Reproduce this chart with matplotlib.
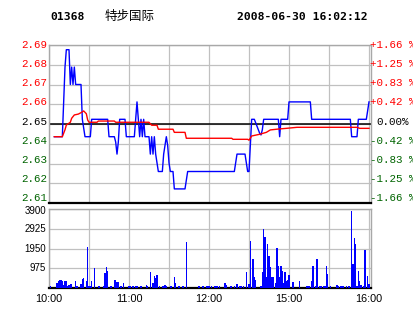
import numpy as np
import matplotlib
matplotlib.use('Agg')
import matplotlib.pyplot as plt
import matplotlib.transforms as mtransforms

# Заголовок
CODE = '01368'
NAME = '特步国际'
STAMP = '2008-06-30 16:02:12'

# Шкала времени: минуты торгов (10:00-12:30, 14:30-16:00)
time_ticks = [0, 60, 120, 180, 240]
time_labels = ['10:00', '11:00', '12:00', '15:00', '16:00']

# Подписи шкалы цены (снизу вверх)
price_labels = ['2.61', '2.62', '2.63', '2.64', '2.65', '2.66', '2.67', '2.68', '2.69']
pct_labels = ['-1.66 %', '-1.25 %', '-0.83 %', '-0.42 %', '0.00%',
              '+0.42 %', '+0.83 %', '+1.25 %', '+1.66 %']

vol_ticks = [975, 1950, 2925, 3900]
vol_labels = ['975', '1950', '2925', '3900']

# Цена (минута, цена)
price_min = [4, 10, 11, 12, 13, 15, 16, 17, 18, 19, 20, 24, 25, 27, 31, 32, 44, 45,
             49, 50, 51, 52, 53, 57, 58, 64, 65, 66, 67, 68, 69, 70, 71, 72, 75,
             76, 77, 78, 79, 80, 81, 82, 85, 86, 87, 88, 89, 90, 91, 93, 94, 102,
             103, 104, 139, 140, 141, 147, 148, 149, 150, 151, 152, 154, 155, 156,
             157, 158, 159, 160, 161, 172, 173, 174, 179, 180, 196, 197, 226, 227,
             231, 232, 238, 240]
price_val = [2.64, 2.64, 2.66, 2.68, 2.69, 2.69, 2.67, 2.68, 2.67, 2.68, 2.67, 2.67, 2.65, 2.64, 2.64, 2.65, 2.65, 2.64,
             2.64, 2.637, 2.63, 2.637, 2.65, 2.65, 2.64, 2.64, 2.65, 2.66, 2.65, 2.64, 2.65, 2.64, 2.65, 2.64, 2.64,
             2.63, 2.64, 2.63, 2.64, 2.63, 2.625, 2.62, 2.62, 2.63, 2.635, 2.64, 2.635, 2.625, 2.62, 2.62, 2.61, 2.61,
             2.615, 2.62, 2.62, 2.625, 2.63, 2.63, 2.625, 2.62, 2.62, 2.635, 2.65, 2.65, 2.648, 2.646,
             2.644, 2.642, 2.641, 2.644, 2.65, 2.65, 2.64, 2.65, 2.65, 2.66, 2.66, 2.65, 2.65, 2.64,
             2.64, 2.65, 2.65, 2.66]

# Средняя цена
avg_min = [4, 10, 12, 13, 16, 17, 19, 22, 24, 26, 28, 29, 30, 36, 37, 49, 50, 75, 77, 81,
           82, 93, 94, 102, 103, 137, 138, 149, 150, 152, 158, 163, 166, 172, 178, 186, 231, 233, 240]
avg_val = [2.640, 2.640, 2.644, 2.6467, 2.6483, 2.6506, 2.6525, 2.653, 2.6538, 2.6548,
           2.6532, 2.6496, 2.6483, 2.6483, 2.649, 2.649, 2.6483, 2.6483, 2.6466, 2.6466,
           2.6443, 2.6443, 2.6425, 2.6425, 2.6391, 2.6391, 2.6385, 2.6385, 2.638, 2.6404,
           2.6414, 2.6425, 2.6439, 2.6444, 2.6448, 2.6454, 2.6454, 2.6448, 2.6448]

# Объём по минутам
vol_min = [1, 6, 7, 8, 9, 10, 11, 12, 13, 14, 15, 16, 17, 20, 21, 24, 25, 26, 28, 29,
           30, 31, 32, 34, 37, 38, 41, 42, 43, 44, 46, 47, 49, 50, 51, 52, 54, 56, 60, 61,
           63, 65, 66, 69, 73, 74, 76, 78, 79, 80, 81, 83, 85, 86, 87, 88, 91, 92, 94, 95,
           97, 98, 100, 101, 103, 112, 113, 115, 116, 118, 119, 120, 122, 124, 125, 126, 128, 132, 133, 136,
           137, 139, 141, 143, 144, 146, 148, 150, 151, 153, 154, 155, 159, 160, 161, 162, 163, 164, 165, 166,
           167, 168, 170, 171, 172, 173, 174, 175, 176, 177, 178, 179, 180, 183, 188, 193, 194, 195, 197, 198,
           200, 201, 203, 204, 206, 207, 208, 209, 211, 216, 217, 219, 220, 221, 223, 225, 227, 228, 229, 230,
           231, 232, 233, 234, 236, 237, 239, 240]
vol_val = [115, 247, 330, 380, 410, 330, 165, 330, 330, 115, 165, 214, 214, 330, 115, 214, 460, 510, 330, 2025,
           115, 115, 362, 988, 115, 115, 115, 740, 1037, 823, 115, 115, 410, 380, 313, 280, 115, 247, 115, 115,
           115, 115, 115, 115, 165, 115, 806, 247, 576, 494, 658, 115, 115, 115, 165, 115, 115, 115, 543, 247,
           115, 115, 115, 115, 2288, 115, 115, 115, 115, 115, 115, 115, 115, 115, 115, 115, 115, 247, 165, 115,
           115, 115, 214, 115, 115, 115, 773, 197, 2304, 1448, 543, 410, 115, 773, 2930, 2502, 543, 2189, 1564, 1020,
           543, 543, 247, 1992, 1070, 543, 1070, 823, 247, 773, 330, 380, 658, 280, 330, 115, 115, 115, 330, 1070,
           115, 1448, 115, 115, 115, 115, 1070, 708, 115, 165, 115, 115, 115, 115, 115, 115, 3786, 1200, 2469, 2173,
           115, 856, 362, 165, 115, 1893, 609, 214]

PRICE_LO, PRICE_HI = 2.6019, 2.6927
W, H = 414, 314

GRID = '#c0c0c0'
RED = '#ff0000'
GREEN = '#006400'
BLUE = '#0000ff'


def px_box(left, top, right, bottom):
    """Прямоугольник осей в пикселях -> доли фигуры."""
    return [left / W, 1 - bottom / H, (right - left) / W, (bottom - top) / H]


def style_frame(ax):
    for side in ['top', 'left', 'right']:
        ax.spines[side].set_color('#a8a8a8')
        ax.spines[side].set_linewidth(1.0)
    ax.spines['bottom'].set_color('black')
    ax.spines['bottom'].set_linewidth(1.6)
    ax.set_xlim(0, 241.5)
    ax.set_xticks(time_ticks)
    ax.set_xticks(np.arange(30, 241, 60), minor=True)
    ax.grid(True, which='both', color=GRID, linewidth=0.9, zorder=0)
    ax.set_axisbelow(True)
    ax.tick_params(which='both', length=0)


fig = plt.figure(figsize=(W / 100, H / 100), dpi=100)

# Заголовок
fig.text(50 / W, 1 - 16.5 / H, CODE, fontfamily='DejaVu Sans Mono', fontweight='bold',
         fontsize=8.2, va='center', ha='left')
fig.text(105 / W, 1 - 16 / H, NAME, fontfamily=['Noto Sans CJK SC', 'DejaVu Sans'],
         fontsize=9, va='center', ha='left')
fig.text(237 / W, 1 - 16.5 / H, STAMP, fontfamily='DejaVu Sans Mono', fontweight='bold',
         fontsize=8.2, va='center', ha='left')

# Цена
ax = fig.add_axes(px_box(49, 45, 371, 203))
style_frame(ax)
ax.set_xticklabels([])
ax.set_ylim(PRICE_LO, PRICE_HI)
levels = np.linspace(PRICE_LO, PRICE_HI, len(price_labels))
ax.set_yticks(levels)
ax.set_yticklabels([])

# подписи идут чуть плотнее сетки: от 198 до 45 px
label_y = (203 - np.linspace(198.3, 45, len(price_labels))) / 158
label_colors = [GREEN] * 4 + ['black'] + [RED] * 4
for y, txt, pct, c in zip(label_y, price_labels, pct_labels, label_colors):
    ax.text(-1.7 / 322, y, txt, transform=ax.transAxes, ha='right', va='center',
            fontfamily='Liberation Mono', fontsize=7.8, color=c)
    ax.text((392.7 - 49) / 322, y, pct, transform=ax.transAxes, ha='center', va='center',
            fontfamily='Liberation Mono', fontsize=7.8, color=c)

ax.axhline(levels[4], color='black', linewidth=1.1, zorder=1.5)
ax.plot(price_min, price_val, color=BLUE, linewidth=1.0, zorder=3)
ax.plot(avg_min, avg_val, color=RED, linewidth=1.0, zorder=4)

# Объём
axv = fig.add_axes(px_box(49, 209, 371, 288))
style_frame(axv)
axv.set_ylim(0, 3900)
axv.set_yticks(vol_ticks)
axv.set_yticklabels([])
vtrans = mtransforms.blended_transform_factory(axv.transAxes, axv.transData)
for v, txt in zip(vol_ticks, vol_labels):
    shift = -2.5 if v == vol_ticks[-1] else 0
    off = mtransforms.ScaledTranslation(0, shift / 100, fig.dpi_scale_trans)
    axv.text(-3 / 322, v, txt, transform=vtrans + off, ha='right', va='center',
             fontfamily='Liberation Sans', fontsize=7)
axv.set_xticklabels(time_labels, fontfamily='Liberation Sans', fontsize=7.8)
axv.tick_params(axis='x', pad=4)
axv.bar(vol_min, vol_val, width=0.9, color=BLUE, linewidth=0, antialiased=False, zorder=3)

plt.savefig('out.png', dpi=100)
print("Saved: out.png")
